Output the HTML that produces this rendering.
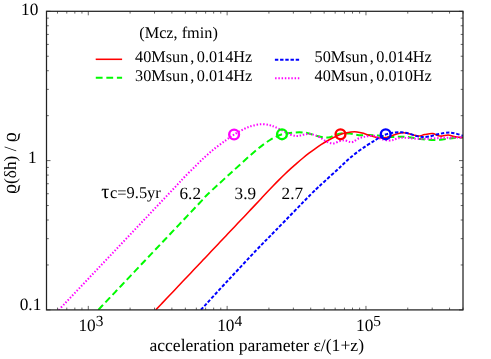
<!DOCTYPE html>
<html><head><meta charset="utf-8"><title>chart</title>
<style>html,body{margin:0;padding:0;background:#fff;}body{width:491px;height:359px;overflow:hidden;font-family:"Liberation Serif",serif;}svg{display:block;}#wrap{width:491px;height:359px;will-change:transform;}</style>
</head><body>
<div id="wrap">
<svg width="491" height="359" viewBox="0 0 491 359">
<rect width="491" height="359" fill="#fff"/>
<defs><clipPath id="cp"><rect x="46.50" y="11.30" width="416.50" height="298.60"/></clipPath></defs>
<g fill="none">
<path clip-path="url(#cp)" d="M98.30,309.90 C99.26,308.88 102.16,305.82 104.09,303.79 C106.02,301.75 107.95,299.71 109.88,297.67 C111.81,295.64 113.74,293.60 115.67,291.56 C117.60,289.52 119.53,287.49 121.46,285.45 C123.39,283.41 125.32,281.37 127.24,279.33 C129.17,277.30 131.10,275.26 133.03,273.22 C134.96,271.18 136.89,269.15 138.82,267.11 C140.75,265.07 142.68,263.03 144.61,260.99 C146.54,258.96 148.47,256.92 150.40,254.88 C152.33,252.84 154.26,250.81 156.19,248.77 C158.12,246.73 160.05,244.69 161.98,242.66 C163.91,240.62 165.84,238.58 167.77,236.54 C169.70,234.50 171.63,232.47 173.56,230.43 C175.49,228.39 177.42,226.35 179.35,224.32 C181.28,222.28 183.20,220.24 185.13,218.20 C187.06,216.16 188.99,214.13 190.92,212.09 C192.85,210.05 194.78,208.01 196.71,205.98 C198.64,203.94 200.59,201.90 202.50,199.86 C204.42,197.83 203.62,198.10 208.20,193.75 C212.78,189.40 222.20,180.83 230.00,173.75 C237.80,166.67 248.33,156.88 255.00,151.25 C261.67,145.62 265.50,142.83 270.00,140.00 C274.50,137.17 278.67,135.42 282.00,134.25 C285.33,133.08 287.08,133.32 290.00,133.00 C292.92,132.68 296.50,132.27 299.50,132.30 C302.50,132.33 305.25,132.62 308.00,133.20 C310.75,133.78 313.17,135.08 316.00,135.80 C318.83,136.52 322.67,137.27 325.00,137.50 C327.33,137.73 328.17,137.68 330.00,137.20 C331.83,136.72 333.83,135.27 336.00,134.60 C338.17,133.93 340.67,133.37 343.00,133.20 C345.33,133.03 347.33,133.27 350.00,133.60 C352.67,133.93 355.83,134.97 359.00,135.20 C362.17,135.43 365.83,134.93 369.00,135.00 C372.17,135.07 374.50,135.27 378.00,135.60 C381.50,135.93 386.23,136.80 390.00,137.00 C393.77,137.20 397.43,136.77 400.60,136.80 C403.77,136.83 405.83,136.85 409.00,137.20 C412.17,137.55 415.82,138.43 419.60,138.90 C423.38,139.37 427.67,139.93 431.70,140.00 C435.73,140.07 440.08,139.63 443.80,139.30 C447.52,138.97 450.80,138.30 454.00,138.00 C457.20,137.70 461.50,137.58 463.00,137.50" stroke="#00fa00" stroke-width="2" stroke-dasharray="6.8 3.55"/>
<path clip-path="url(#cp)" d="M155.80,309.90 C156.77,308.87 159.69,305.79 161.64,303.74 C163.58,301.68 165.53,299.63 167.48,297.57 C169.42,295.52 171.37,293.46 173.31,291.41 C175.26,289.35 177.21,287.30 179.15,285.24 C181.10,283.19 183.04,281.13 184.99,279.08 C186.93,277.02 188.88,274.97 190.83,272.91 C192.77,270.86 194.72,268.80 196.66,266.75 C198.61,264.69 200.56,262.64 202.50,260.58 C204.45,258.53 206.39,256.47 208.34,254.42 C210.29,252.36 212.23,250.31 214.18,248.25 C216.12,246.20 218.07,244.14 220.02,242.09 C221.96,240.03 223.91,237.98 225.85,235.92 C227.80,233.87 229.75,231.81 231.69,229.76 C233.64,227.70 235.58,225.65 237.53,223.59 C239.47,221.54 241.42,219.48 243.37,217.43 C245.31,215.37 247.27,213.32 249.20,211.26 C251.14,209.21 253.03,207.20 255.00,205.10 C256.97,203.00 259.00,200.81 261.00,198.67 C263.00,196.53 265.00,194.38 267.00,192.26 C269.00,190.14 271.00,188.04 273.00,185.98 C275.00,183.92 277.00,181.88 279.00,179.88 C281.00,177.88 283.00,175.92 285.00,174.01 C287.00,172.09 289.00,170.22 291.00,168.39 C293.00,166.56 295.00,164.78 297.00,163.05 C299.00,161.32 301.00,159.63 303.00,157.99 C305.00,156.35 307.00,154.76 309.00,153.23 C311.00,151.70 313.00,150.21 315.00,148.79 C317.00,147.37 319.00,146.00 321.00,144.70 C323.00,143.40 325.00,142.16 327.00,141.01 C329.00,139.86 331.00,138.76 333.00,137.78 C335.00,136.80 337.00,135.88 339.00,135.10 C341.00,134.32 343.00,133.64 345.00,133.12 C347.00,132.60 349.00,132.18 351.00,131.98 C353.00,131.78 354.93,131.69 357.00,131.91 C359.07,132.13 361.23,132.69 363.40,133.30 C365.57,133.92 367.45,134.83 370.00,135.60 C372.55,136.37 376.03,137.57 378.70,137.90 C381.37,138.23 384.12,137.85 386.00,137.60 C387.88,137.35 388.22,137.00 390.00,136.40 C391.78,135.80 394.70,134.60 396.70,134.00 C398.70,133.40 400.45,132.97 402.00,132.80 C403.55,132.63 404.17,132.65 406.00,133.00 C407.83,133.35 410.85,134.38 413.00,134.90 C415.15,135.42 416.95,136.15 418.90,136.10 C420.85,136.05 422.42,135.02 424.70,134.60 C426.98,134.18 430.48,133.45 432.60,133.60 C434.72,133.75 435.78,135.08 437.40,135.50 C439.02,135.92 440.50,136.17 442.30,136.10 C444.10,136.03 446.23,135.03 448.20,135.10 C450.17,135.17 451.63,136.08 454.10,136.50 C456.57,136.92 461.52,137.42 463.00,137.60" stroke="#ff0000" stroke-width="1.55"/>
<path clip-path="url(#cp)" d="M58.80,309.90 C59.80,308.84 62.80,305.67 64.80,303.56 C66.80,301.45 68.80,299.34 70.80,297.22 C72.80,295.11 74.81,293.00 76.81,290.89 C78.81,288.77 80.81,286.66 82.81,284.55 C84.81,282.43 86.81,280.32 88.81,278.21 C90.81,276.10 92.81,273.98 94.81,271.87 C96.81,269.76 98.81,267.65 100.81,265.53 C102.81,263.42 104.82,261.31 106.82,259.20 C108.82,257.08 110.82,254.97 112.82,252.86 C114.82,250.74 116.82,248.63 118.82,246.52 C120.82,244.41 122.82,242.29 124.82,240.18 C126.82,238.07 128.82,235.96 130.82,233.84 C132.82,231.73 134.83,229.62 136.83,227.50 C138.83,225.39 140.83,223.28 142.83,221.17 C144.83,219.05 146.83,216.94 148.83,214.83 C150.83,212.72 152.83,210.60 154.83,208.49 C156.83,206.38 158.83,204.27 160.83,202.15 C162.83,200.04 164.84,197.93 166.84,195.81 C168.84,193.70 170.84,191.59 172.84,189.48 C174.84,187.36 176.86,185.25 178.84,183.14 C180.82,181.03 182.06,179.52 184.70,176.80 C187.34,174.08 191.30,170.13 194.70,166.80 C198.10,163.47 201.63,159.95 205.10,156.80 C208.57,153.65 212.00,150.68 215.50,147.90 C219.00,145.12 223.00,142.33 226.10,140.10 C229.20,137.87 230.95,136.43 234.10,134.50 C237.25,132.57 241.85,129.98 245.00,128.50 C248.15,127.02 250.17,126.32 253.00,125.60 C255.83,124.88 259.17,124.27 262.00,124.20 C264.83,124.13 267.83,124.73 270.00,125.20 C272.17,125.67 272.83,126.07 275.00,127.00 C277.17,127.93 280.50,129.57 283.00,130.80 C285.50,132.03 287.83,133.53 290.00,134.40 C292.17,135.27 294.33,135.80 296.00,136.00 C297.67,136.20 298.50,135.87 300.00,135.60 C301.50,135.33 303.33,134.68 305.00,134.40 C306.67,134.12 308.33,133.77 310.00,133.90 C311.67,134.03 313.33,134.60 315.00,135.20 C316.67,135.80 318.05,136.42 320.00,137.50 C321.95,138.58 324.47,140.72 326.70,141.70 C328.93,142.68 331.18,143.52 333.40,143.40 C335.62,143.28 338.07,141.50 340.00,141.00 C341.93,140.50 343.33,140.23 345.00,140.40 C346.67,140.57 348.60,141.78 350.00,142.00 C351.40,142.22 352.00,142.28 353.40,141.70 C354.80,141.12 356.73,139.28 358.40,138.50 C360.07,137.72 361.80,137.38 363.40,137.00 C365.00,136.62 366.23,136.42 368.00,136.20 C369.77,135.98 372.22,135.45 374.00,135.70 C375.78,135.95 377.42,137.12 378.70,137.70 C379.98,138.28 379.98,138.75 381.70,139.20 C383.42,139.65 387.05,140.28 389.00,140.40 C390.95,140.52 392.12,140.18 393.40,139.90 C394.68,139.62 395.38,139.07 396.70,138.70 C398.02,138.33 399.23,137.80 401.30,137.70 C403.37,137.60 406.17,137.90 409.10,138.10 C412.03,138.30 415.63,138.80 418.90,138.90 C422.17,139.00 425.45,138.83 428.70,138.70 C431.95,138.57 435.15,138.27 438.40,138.10 C441.65,137.93 444.62,137.80 448.20,137.70 C451.78,137.60 457.43,137.53 459.90,137.50 C462.37,137.47 462.48,137.50 463.00,137.50" stroke="#ff00ff" stroke-width="2" stroke-dasharray="1.45 1.8"/>
<path clip-path="url(#cp)" d="M200.90,309.80 C205.48,304.83 219.13,289.97 228.40,280.00 C237.67,270.03 248.55,258.33 256.50,250.00 C264.45,241.67 267.02,239.30 276.10,230.00 C285.18,220.70 303.02,202.22 311.00,194.20 C318.98,186.18 319.75,185.85 324.00,181.90 C328.25,177.95 333.27,173.48 336.50,170.50 C339.73,167.52 341.15,166.08 343.40,164.00 C345.65,161.92 347.50,160.12 350.00,158.00 C352.50,155.88 355.60,153.38 358.40,151.30 C361.20,149.22 364.30,147.17 366.80,145.50 C369.30,143.83 371.57,142.47 373.40,141.30 C375.23,140.13 375.77,139.63 377.80,138.50 C379.83,137.37 382.98,135.48 385.60,134.50 C388.22,133.52 390.88,132.98 393.50,132.60 C396.12,132.22 398.70,132.03 401.30,132.20 C403.90,132.37 406.50,132.95 409.10,133.60 C411.70,134.25 414.62,135.55 416.90,136.10 C419.18,136.65 420.83,136.83 422.80,136.90 C424.77,136.97 426.42,136.88 428.70,136.50 C430.98,136.12 433.90,135.18 436.50,134.60 C439.10,134.02 442.02,133.33 444.30,133.00 C446.58,132.67 448.25,132.50 450.20,132.60 C452.15,132.70 453.87,133.08 456.00,133.60 C458.13,134.12 461.83,135.35 463.00,135.70" stroke="#0000ff" stroke-width="2" stroke-dasharray="3.4 1.8"/>
<circle cx="282.00" cy="134.30" r="4.9" stroke="#00fa00" stroke-width="2.4"/>
<circle cx="340.50" cy="134.30" r="4.9" stroke="#ff0000" stroke-width="2.4"/>
<circle cx="234.10" cy="134.50" r="4.9" stroke="#ff00ff" stroke-width="2.4"/>
<circle cx="385.70" cy="134.30" r="4.9" stroke="#0000ff" stroke-width="2.4"/>
</g>
<path d="M46.50,309.90v-2.30 M46.50,11.30v2.30 M57.49,309.90v-2.30 M57.49,11.30v2.30 M66.79,309.90v-2.30 M66.79,11.30v2.30 M74.84,309.90v-2.30 M74.84,11.30v2.30 M81.94,309.90v-2.30 M81.94,11.30v2.30 M88.29,309.90v-4.00 M88.29,11.30v4.00 M130.09,309.90v-2.30 M130.09,11.30v2.30 M154.53,309.90v-2.30 M154.53,11.30v2.30 M171.88,309.90v-2.30 M171.88,11.30v2.30 M185.33,309.90v-2.30 M185.33,11.30v2.30 M196.33,309.90v-2.30 M196.33,11.30v2.30 M205.62,309.90v-2.30 M205.62,11.30v2.30 M213.67,309.90v-2.30 M213.67,11.30v2.30 M220.77,309.90v-2.30 M220.77,11.30v2.30 M227.13,309.90v-4.00 M227.13,11.30v4.00 M268.92,309.90v-2.30 M268.92,11.30v2.30 M293.37,309.90v-2.30 M293.37,11.30v2.30 M310.71,309.90v-2.30 M310.71,11.30v2.30 M324.17,309.90v-2.30 M324.17,11.30v2.30 M335.16,309.90v-2.30 M335.16,11.30v2.30 M344.45,309.90v-2.30 M344.45,11.30v2.30 M352.51,309.90v-2.30 M352.51,11.30v2.30 M359.61,309.90v-2.30 M359.61,11.30v2.30 M365.96,309.90v-4.00 M365.96,11.30v4.00 M407.75,309.90v-2.30 M407.75,11.30v2.30 M432.20,309.90v-2.30 M432.20,11.30v2.30 M449.55,309.90v-2.30 M449.55,11.30v2.30 M463.00,309.90v-2.30 M463.00,11.30v2.30 M46.50,309.90h4.00 M463.00,309.90h-4.00 M46.50,264.96h2.30 M463.00,264.96h-2.30 M46.50,238.67h2.30 M463.00,238.67h-2.30 M46.50,220.01h2.30 M463.00,220.01h-2.30 M46.50,205.54h2.30 M463.00,205.54h-2.30 M46.50,193.72h2.30 M463.00,193.72h-2.30 M46.50,183.73h2.30 M463.00,183.73h-2.30 M46.50,175.07h2.30 M463.00,175.07h-2.30 M46.50,167.43h2.30 M463.00,167.43h-2.30 M46.50,160.60h4.00 M463.00,160.60h-4.00 M46.50,115.66h2.30 M463.00,115.66h-2.30 M46.50,89.37h2.30 M463.00,89.37h-2.30 M46.50,70.71h2.30 M463.00,70.71h-2.30 M46.50,56.24h2.30 M463.00,56.24h-2.30 M46.50,44.42h2.30 M463.00,44.42h-2.30 M46.50,34.43h2.30 M463.00,34.43h-2.30 M46.50,25.77h2.30 M463.00,25.77h-2.30 M46.50,18.13h2.30 M463.00,18.13h-2.30 M46.50,11.30h4.00 M463.00,11.30h-4.00" stroke="#222" stroke-width="0.7" fill="none"/>
<rect x="46.50" y="11.30" width="416.50" height="298.60" fill="none" stroke="#222" stroke-width="1.25"/>
<path d="M95.7,59.3H122.1" stroke="#ff0000" stroke-width="1.55"/>
<path d="M95.8,77.8H122.1" stroke="#00fa00" stroke-width="2" stroke-dasharray="6.8 3.75"/>
<path d="M274.9,59.65H299.3" stroke="#0000ff" stroke-width="2" stroke-dasharray="3.4 1.8"/>
<path d="M275.1,78.35H299.9" stroke="#ff00ff" stroke-width="2" stroke-dasharray="1.45 1.8"/>
<g font-family="'Liberation Serif', serif" fill="#000" text-rendering="geometricPrecision">
<text x="139.30" y="38.00" font-size="16.25" text-anchor="start" >(Mcz, fmin)</text>
<text x="135.00" y="62.30" font-size="16.25" text-anchor="start" >40Msun<tspan dx="1.9">,</tspan><tspan dx="-1.5"> 0.014Hz</tspan></text>
<text x="135.00" y="81.30" font-size="16.25" text-anchor="start" >30Msun<tspan dx="1.9">,</tspan><tspan dx="-1.5"> 0.014Hz</tspan></text>
<text x="314.50" y="62.30" font-size="16.25" text-anchor="start" >50Msun<tspan dx="1.9">,</tspan><tspan dx="-1.5"> 0.014Hz</tspan></text>
<text x="314.50" y="81.30" font-size="16.25" text-anchor="start" >40Msun<tspan dx="1.9">,</tspan><tspan dx="-1.5"> 0.010Hz</tspan></text>
<text x="101.20" y="198.00" font-size="16.45" text-anchor="start" ><tspan font-size="20">τ</tspan><tspan x="110.0">c=9.5yr</tspan></text>
<text x="179.50" y="198.50" font-size="17.20" text-anchor="start" >6.2</text>
<text x="234.60" y="198.50" font-size="17.20" text-anchor="start" >3.9</text>
<text x="281.60" y="198.50" font-size="17.20" text-anchor="start" >2.7</text>
<text x="38.40" y="15.30" font-size="17.30" text-anchor="end" >10</text>
<text x="36.60" y="163.20" font-size="17.30" text-anchor="end" >1</text>
<text x="41.30" y="309.70" font-size="17.30" text-anchor="end" >0.1</text>
<text x="78.39" y="331.10" font-size="17.30" text-anchor="start" >10</text>
<text x="95.69" y="326.10" font-size="15.40" text-anchor="start" >3</text>
<text x="217.23" y="331.10" font-size="17.30" text-anchor="start" >10</text>
<text x="234.53" y="326.10" font-size="15.40" text-anchor="start" >4</text>
<text x="356.06" y="331.10" font-size="17.30" text-anchor="start" >10</text>
<text x="373.36" y="326.10" font-size="15.40" text-anchor="start" >5</text>
<text x="149.40" y="350.60" font-size="17.60" text-anchor="start" >acceleration parameter ε/(1+z)</text>
<text transform="translate(16.2,193.9) rotate(-90)" font-size="17.3"><tspan font-size="19.6">ϱ</tspan>(δh) / <tspan font-size="19.6">ϱ</tspan></text>
</g>
</svg>
</div>
</body></html>
